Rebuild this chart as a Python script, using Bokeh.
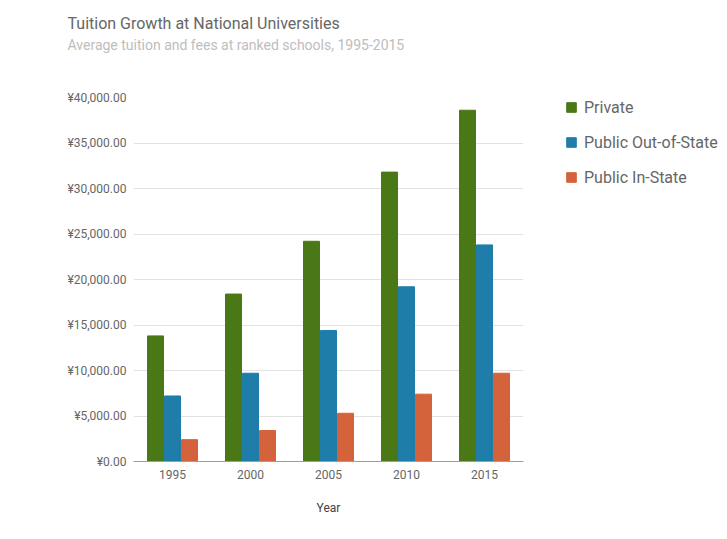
from bokeh.plotting import figure
from bokeh.models import FactorRange, FixedTicker, Legend, LegendItem, Title, ColumnDataSource
from bokeh.transform import dodge
from bokeh.embed import file_html
from bokeh.resources import INLINE

years = ["1995", "2000", "2005", "2010", "2015"]
private = [13800, 18400, 24200, 31800, 38600]
public_out = [7200, 9700, 14400, 19200, 23800]
public_in = [2400, 3400, 5300, 7400, 9700]
y_ticks = [0, 5000, 10000, 15000, 20000, 25000, 30000, 35000, 40000]
y_tick_labels = ["¥0.00", "¥5,000.00", "¥10,000.00", "¥15,000.00", "¥20,000.00",
                 "¥25,000.00", "¥30,000.00", "¥35,000.00", "¥40,000.00"]
series_names = ["Private", "Public Out-of-State", "Public In-State"]
colors = ["#4a7816", "#1f7daa", "#d4623a"]
title_text = "Tuition Growth at National Universities"
subtitle_text = "Average tuition and fees at ranked schools, 1995-2015"

FONT = "Roboto"

p = figure(x_range=FactorRange(*years), y_range=(0, 40000),
           frame_width=390, frame_height=364,
           min_border_left=133, min_border_top=97, min_border_right=204, min_border_bottom=78,
           output_backend="svg", toolbar_location=None, tools="")
p.outline_line_color = None
p.background_fill_color = "white"
p.border_fill_color = "white"

src = ColumnDataSource(dict(years=years, private=private, public_out=public_out, public_in=public_in))

r1 = p.vbar(x=dodge("years", -0.218, range=p.x_range), top="private", width=0.205,
            source=src, color=colors[0])
r2 = p.vbar(x=dodge("years", 0.0, range=p.x_range), top="public_out", width=0.205,
            source=src, color=colors[1])
r3 = p.vbar(x=dodge("years", 0.218, range=p.x_range), top="public_in", width=0.205,
            source=src, color=colors[2])

p.yaxis.ticker = FixedTicker(ticks=y_ticks)
p.yaxis.major_label_overrides = {t: l for t, l in zip(y_ticks, y_tick_labels)}
p.yaxis.axis_line_color = None
p.yaxis.major_tick_line_color = None
p.yaxis.minor_tick_line_color = None
p.yaxis.major_tick_out = 0
p.yaxis.minor_tick_out = 0
p.yaxis.major_label_text_font = FONT
p.yaxis.major_label_text_font_size = "12px"
p.yaxis.major_label_text_color = "#666666"
p.yaxis.major_label_standoff = 7

p.xaxis.axis_line_color = "#9e9e9e"
p.xaxis.major_tick_line_color = None
p.xaxis.minor_tick_line_color = None
p.xaxis.major_tick_out = 0
p.xaxis.minor_tick_out = 0
p.xaxis.major_label_text_font = FONT
p.xaxis.major_label_text_font_size = "12px"
p.xaxis.major_label_text_color = "#666666"
p.xaxis.major_label_standoff = 8
p.xaxis.axis_label = "Year"
p.xaxis.axis_label_text_font = FONT
p.xaxis.axis_label_text_font_size = "12px"
p.xaxis.axis_label_text_font_style = "normal"
p.xaxis.axis_label_text_color = "#444444"
p.xaxis.axis_label_standoff = 19

p.xgrid.grid_line_color = None
p.ygrid.grid_line_color = "#e2e2e2"
p.ygrid.grid_line_width = 1

legend = Legend(items=[LegendItem(label=series_names[0], renderers=[r1]),
                       LegendItem(label=series_names[1], renderers=[r2]),
                       LegendItem(label=series_names[2], renderers=[r3])],
                location=(42, 274), orientation="vertical")
legend.background_fill_alpha = 0
legend.border_line_color = None
legend.padding = 0
legend.margin = 0
legend.spacing = 15
legend.label_height = 20
legend.glyph_height = 12
legend.glyph_width = 12
legend.label_standoff = 7
legend.label_text_font = FONT
legend.label_text_font_size = "16px"
legend.label_text_color = "#666666"
p.add_layout(legend, "right")

p.title.text = title_text
p.title.text_font = FONT
p.title.text_font_size = "16px"
p.title.text_font_style = "normal"
p.title.text_color = "#666666"
p.title.align = "left"
p.title.offset = -66
p.title.standoff = 0

spacer = Title(text=" ", text_font=FONT, text_font_size="10px", standoff=30)
p.add_layout(spacer, "above")
sub = Title(text=subtitle_text, text_font=FONT,
            text_font_size="14px", text_font_style="normal", text_color="#bdbdbd",
            align="left", offset=-66, standoff=4)
p.add_layout(sub, "above")

open("out.html", "w").write(file_html(p, INLINE))
